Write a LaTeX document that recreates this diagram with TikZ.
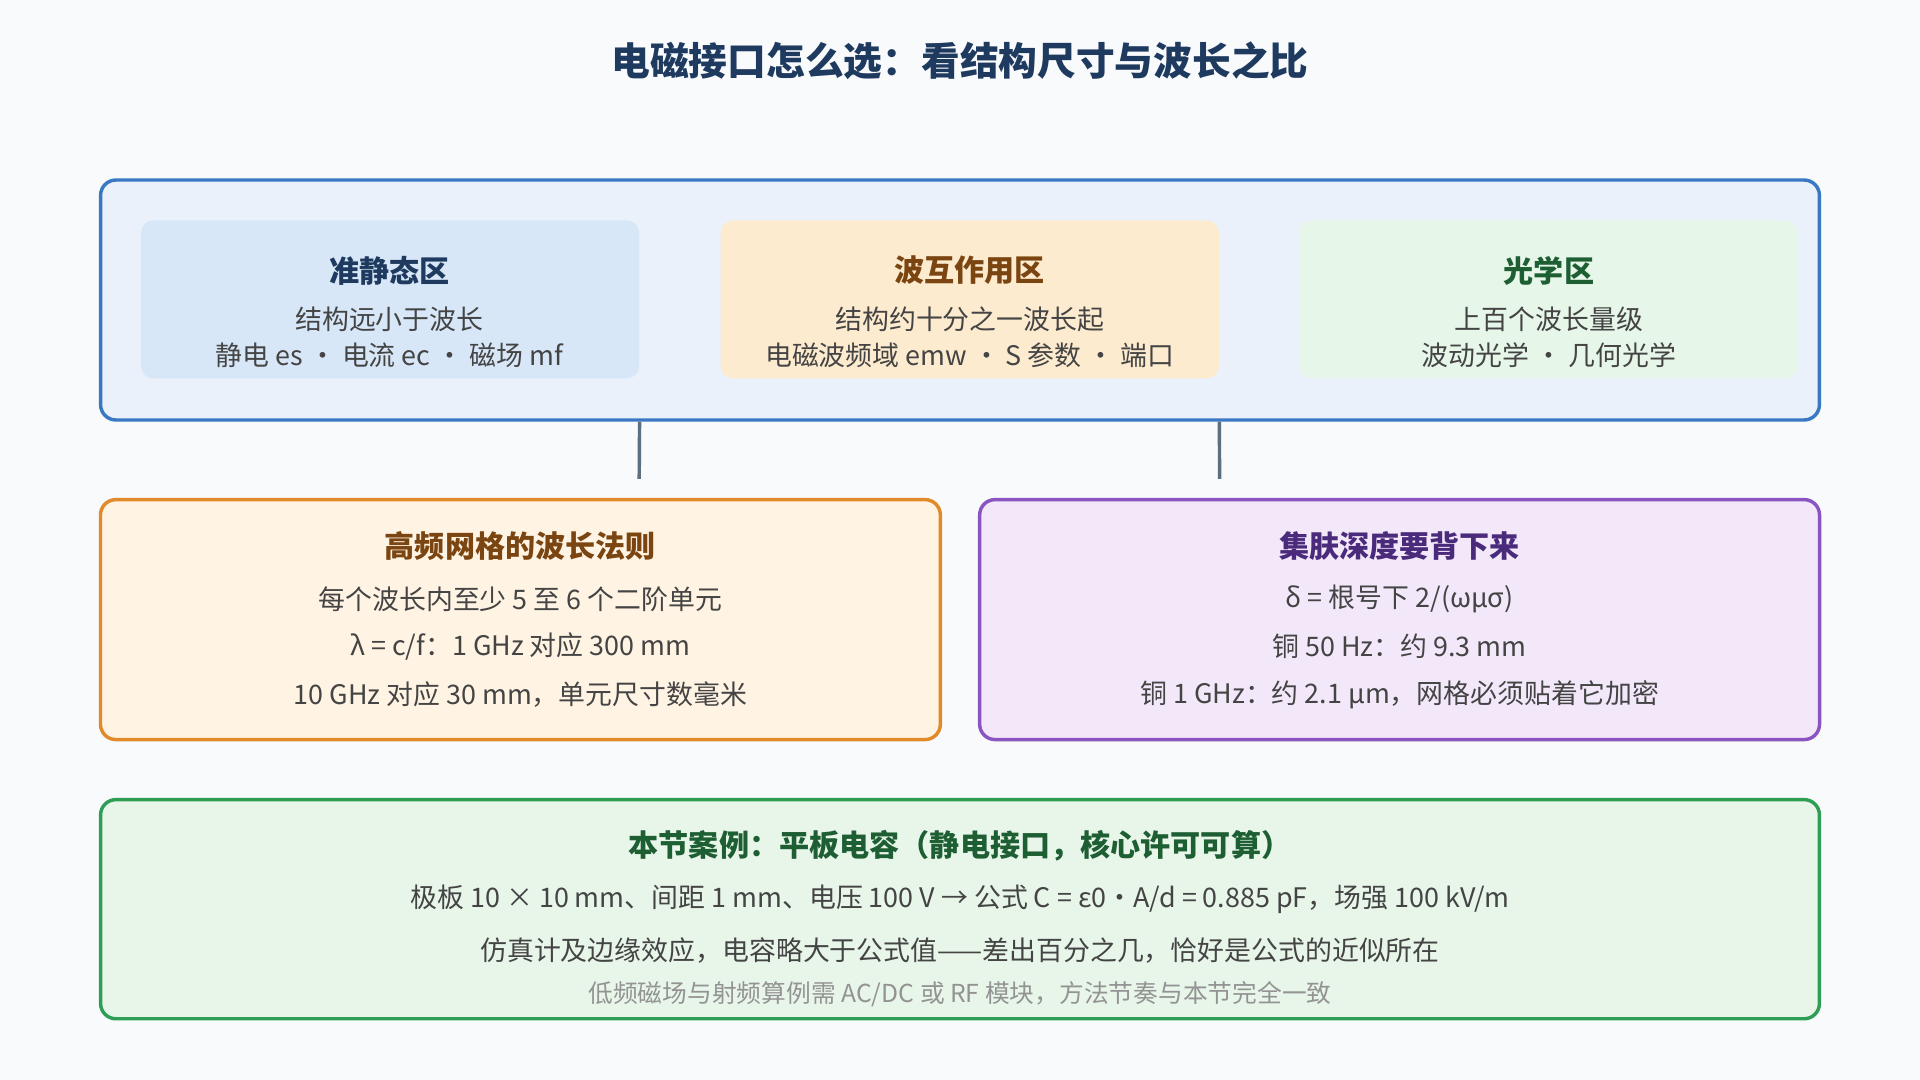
\documentclass[tikz,border=0pt]{standalone}
\usepackage{fontspec}
\setmainfont{Noto Sans CJK SC}
\usetikzlibrary{positioning}
\definecolor{bg}{HTML}{F8FAFC}
\definecolor{navy}{HTML}{1F3A5F}
\definecolor{txt}{HTML}{444444}
\definecolor{outerB}{HTML}{3B78C4}\definecolor{outerF}{HTML}{EAF1FB}
\definecolor{qsF}{HTML}{D8E7F7}\definecolor{waveF}{HTML}{FDEBCF}\definecolor{optF}{HTML}{E6F6E8}
\definecolor{orB}{HTML}{E08A2A}\definecolor{orF}{HTML}{FFF3E3}\definecolor{orT}{HTML}{7A4510}
\definecolor{puB}{HTML}{8A55C0}\definecolor{puF}{HTML}{F3E8FA}\definecolor{puT}{HTML}{4A2A7A}
\definecolor{grB}{HTML}{2E9E55}\definecolor{grF}{HTML}{E8F6EA}\definecolor{grT}{HTML}{1E5E33}
\definecolor{link}{HTML}{5A6F80}
\begin{document}
\begin{tikzpicture}[x=0.02cm, y=-0.02cm,
  frame/.style={draw, line width=1.6pt, rounded corners=0.25cm},
  zone/.style={rounded corners=0.2cm, minimum width=8.14cm, minimum height=2.58cm},
  head/.style={font=\fontsize{14}{16}\selectfont\bfseries},
  body/.style={font=\fontsize{12.5}{15}\selectfont, text=txt},
  link/.style={draw=link, line width=1.6pt}
]
\fill[bg] (0,0) rectangle (1568,882);
\node[font=\fontsize{18}{20}\selectfont\bfseries, text=navy] (title) at (784,50) {电磁接口怎么选：看结构尺寸与波长之比};

% top band
\node[frame, draw=outerB, fill=outerF, minimum width=28.08cm, minimum height=3.92cm] (band) at (784,245) {};
\node[zone, fill=qsF] (qs) at (318.5,244.5) {};
\node[zone, fill=waveF] (wave) at (792,244.5) {};
\node[zone, fill=optF] (opt) at (1264.5,244.5) {};
\node[head, text=navy] at (318,221) {准静态区};
\node[body] at (318,261) {结构远小于波长};
\node[body] at (318,290) {静电 es · 电流 ec · 磁场 mf};
\node[head, text=orT] at (792,221) {波互作用区};
\node[body] at (792,261) {结构约十分之一波长起};
\node[body] at (792,290) {电磁波频域 emw · S 参数 · 端口};
\node[head, text=grT] at (1265,221) {光学区};
\node[body] at (1265,261) {上百个波长量级};
\node[body] at (1265,290) {波动光学 · 几何光学};

% middle boxes
\node[frame, draw=orB, fill=orF, minimum width=13.72cm, minimum height=3.92cm] (mesh) at (425,506) {};
\node[frame, draw=puB, fill=puF, minimum width=13.72cm, minimum height=3.92cm] (skin) at (1143,506) {};
\node[head, text=orT] at (425,446) {高频网格的波长法则};
\node[body] at (425,489) {每个波长内至少 5 至 6 个二阶单元};
\node[body] at (425,528) {λ = c/f：1 GHz 对应 300 mm};
\node[body] at (425,567) {10 GHz 对应 30 mm，单元尺寸数毫米};
\node[head, text=puT] at (1143,446) {集肤深度要背下来};
\node[body] at (1143,489) {δ = 根号下 2/(ωμσ)};
\node[body] at (1143,528) {铜 50 Hz：约 9.3 mm};
\node[body] at (1143,567) {铜 1 GHz：约 2.1 μm，网格必须贴着它加密};

\coordinate (linkA) at (522,391);
\coordinate (linkB) at (996,391);
\draw[link] (qs.east |- band.south) -- (linkA);
\draw[link] (wave.east |- band.south) -- (linkB);

% bottom case
\node[frame, draw=grB, fill=grF, minimum width=28.08cm, minimum height=3.58cm] (case) at (784,742.5) {};
\node[head, text=grT] at (784,691) {本节案例：平板电容（静电接口，核心许可可算）};
\node[body] at (784,734) {极板 10 × 10 mm、间距 1 mm、电压 100 V → 公式 C = ε0·A/d = 0.885 pF，场强 100 kV/m};
\node[body] at (784,776) {仿真计及边缘效应，电容略大于公式值——差出百分之几，恰好是公式的近似所在};
\node[font=\fontsize{11.5}{14}\selectfont, text=gray!85] at (784,812) {低频磁场与射频算例需 AC/DC 或 RF 模块，方法节奏与本节完全一致};
\end{tikzpicture}
\end{document}
